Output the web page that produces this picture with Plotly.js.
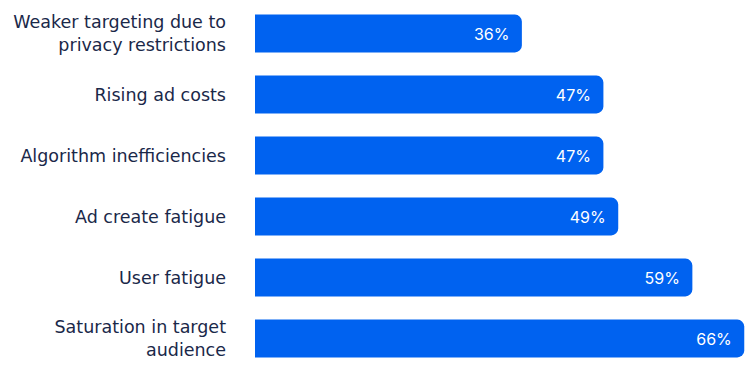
<!DOCTYPE html>
<html>
<head>
<meta charset="utf-8">
<script src="https://cdn.plot.ly/plotly-3.0.1.min.js"></script>
<style>html,body{margin:0;padding:0;background:#fff}#chart{width:753px;height:369px}</style>
</head>
<body>
<div id="chart"></div>
<script>
const categories = [
  "Weaker targeting due to<br>privacy restrictions",
  "Rising ad costs",
  "Algorithm inefficiencies",
  "Ad create fatigue",
  "User fatigue",
  "Saturation in target<br>audience"
];
const values = [36, 47, 47, 49, 59, 66];

Plotly.newPlot('chart', [{
  type: 'bar',
  orientation: 'h',
  y: categories,
  x: values,
  width: 0.62,
  marker: {color: '#0062F0', cornerradius: 7},
  texttemplate: '%{x}%\u00a0\u00a0',
  textposition: 'inside',
  insidetextanchor: 'end',
  textfont: {color: '#ffffff', size: 16, family: 'Inter, sans-serif'},
  hoverinfo: 'none'
}], {
  width: 753, height: 369,
  margin: {l: 255, r: 8, t: 3, b: 0},
  paper_bgcolor: '#ffffff', plot_bgcolor: '#ffffff',
  showlegend: false,
  xaxis: {range: [0, 66.1], visible: false, fixedrange: true},
  yaxis: {autorange: 'reversed', showgrid: false, zeroline: false, showline: false,
          ticks: '', ticklabelstandoff: 28,
          tickfont: {size: 17.5, color: '#1a2849', family: '"DejaVu Sans", sans-serif'}},
  font: {family: 'Inter, sans-serif'}
}, {displayModeBar: false, staticPlot: true});
</script>
</body>
</html>
